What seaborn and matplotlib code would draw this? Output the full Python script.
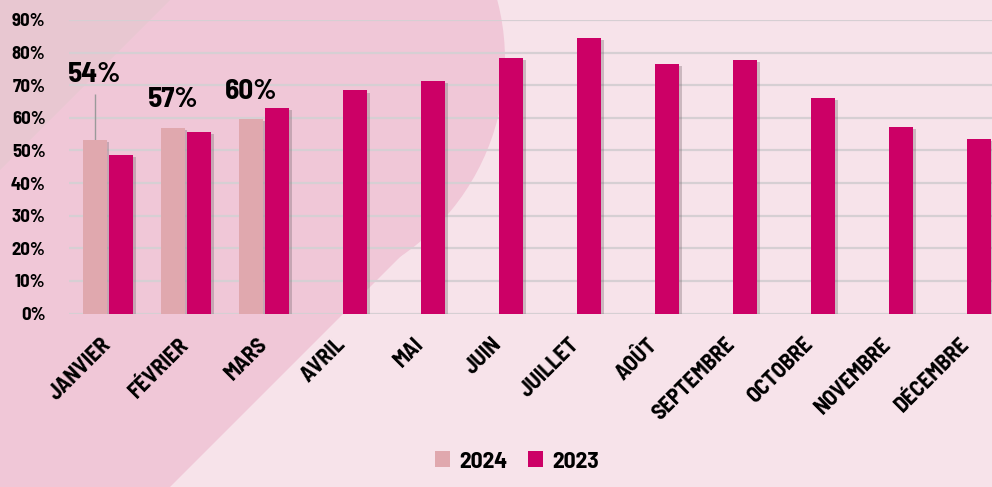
import numpy as np
import pandas as pd
import matplotlib
matplotlib.use("Agg")
import matplotlib.pyplot as plt
import matplotlib.patheffects as pe
from matplotlib.patches import Polygon, Circle
from matplotlib import font_manager
import seaborn as sns

# ---------------- data ----------------
months = ["JANVIER", "FÉVRIER", "MARS", "AVRIL", "MAI", "JUIN", "JUILLET",
          "AOÛT", "SEPTEMBRE", "OCTOBRE", "NOVEMBRE", "DÉCEMBRE"]
years = ["2024", "2023"]
values_2024 = [53.3, 57.0, 59.6]
values_2023 = [48.5, 55.6, 63.0, 68.4, 71.4, 78.3, 84.6, 76.6, 77.8, 66.1, 57.2, 53.6]
labels_2024 = ["54%", "57%", "60%"]
yticks = [0, 10, 20, 30, 40, 50, 60, 70, 80, 90]
ytick_labels = [f"{v}%" for v in yticks]

df = pd.DataFrame({
    "mois": months[:len(values_2024)] + months,
    "taux": values_2024 + values_2023,
    "annee": [years[0]] * len(values_2024) + [years[1]] * len(values_2023),
})

# ---------------- style ----------------
C24 = "#E0A8AE"
C23 = "#CC0066"
BG = "#F7E3EA"
BLOB = "#F0C7D7"
CORNER = "#E8C7D1"
GRID = "#D6CFD3"

sns.set_theme(style="white")
available = {f.name for f in font_manager.fontManager.ttflist}
font_choice = "DejaVu Sans"
for cand in ["Barlow Semi Condensed", "Barlow", "Roboto Condensed",
             "IBM Plex Sans Condensed", "DejaVu Sans"]:
    if cand in available:
        font_choice = cand
        break
plt.rcParams["font.family"] = [font_choice, "DejaVu Sans"]
plt.rcParams["text.color"] = "black"

W, H = 992, 487
fig = plt.figure(figsize=(W / 100, H / 100), dpi=100)
fig.patch.set_facecolor(BG)

# decorative background shapes (pixel coords, y downward)
bg = fig.add_axes([0, 0, 1, 1], zorder=0)
bg.set_xlim(0, W)
bg.set_ylim(H, 0)
bg.axis("off")
bg.add_patch(Polygon([(0, 0), (208, 0), (432.5, 224.5), (170, 487), (0, 487)],
                     closed=True, fc=BLOB, ec="none"))
bg.add_patch(Circle((268, 60), 237, fc=BLOB, ec="none"))
bg.add_patch(Polygon([(0, 0), (170, 0), (0, 170)], closed=True, fc=CORNER, ec="none"))

# main axes
ax = fig.add_axes([69 / W, (H - 313.5) / H, 936 / W, 293.5 / H], zorder=1)
ax.set_facecolor("none")

sns.barplot(data=df, x="mois", y="taux", hue="annee", order=months,
            hue_order=years, palette=[C24, C23], saturation=1, width=0.68, gap=0.1,
            errorbar=None, ax=ax, zorder=3)

shadow = [pe.SimplePatchShadow(offset=(2, -1.5), shadow_rgbFace="#7a6a70", alpha=0.35),
          pe.Normal()]
for p in ax.patches:
    p.set_path_effects(shadow)
    p.set_edgecolor("none")

ax.set_xlim(-0.5, len(months) - 0.5)
ax.set_ylim(0, 90)
ax.set_yticks(yticks)
ax.set_yticklabels(ytick_labels)
ax.yaxis.grid(True, color=GRID, linewidth=1.6, zorder=1)
ax.set_axisbelow(True)
for s in ax.spines.values():
    s.set_visible(False)
ax.set_xlabel("")
ax.set_ylabel("")
ax.tick_params(axis="both", length=0)
ax.tick_params(axis="y", pad=17)
ax.tick_params(axis="x", pad=20)
for t in ax.get_yticklabels():
    t.set_fontsize(13.5)
    t.set_fontweight("bold")
    t.set_color("black")
for t in ax.get_xticklabels():
    t.set_fontsize(16)
    t.set_fontweight("bold")
    t.set_color("black")
    t.set_rotation(45)
    t.set_ha("right")
    t.set_va("center")
    t.set_rotation_mode("anchor")

# value labels for 2024
label_offsets = [20, 8.5, 8.5]
bars24 = ax.containers[0]
for bar, lab, off in zip(bars24, labels_2024, label_offsets):
    cx = bar.get_x() + bar.get_width() / 2
    h = bar.get_height()
    ax.text(cx, h + off, lab, ha="center", va="center", fontsize=21,
            fontweight="bold", color="black", zorder=5)
b0 = bars24[0]
cx0 = b0.get_x() + b0.get_width() / 2
ax.vlines(cx0, b0.get_height(), b0.get_height() + 14, color="#9a9a9a", lw=1, zorder=2)

# legend
sns.move_legend(ax, "lower center", bbox_to_anchor=(517 / W, -0.012),
                bbox_transform=fig.transFigure, ncol=2, frameon=False, title=None,
                handlelength=0.65, handleheight=0.65, handletextpad=0.4,
                columnspacing=0.85, prop={"weight": "bold", "size": 17})
leg = ax.get_legend()
for t in leg.get_texts():
    t.set_color("black")
for hnd in leg.legend_handles:
    hnd.set_edgecolor("none")

fig.savefig("out.png", dpi=100, facecolor=BG)
